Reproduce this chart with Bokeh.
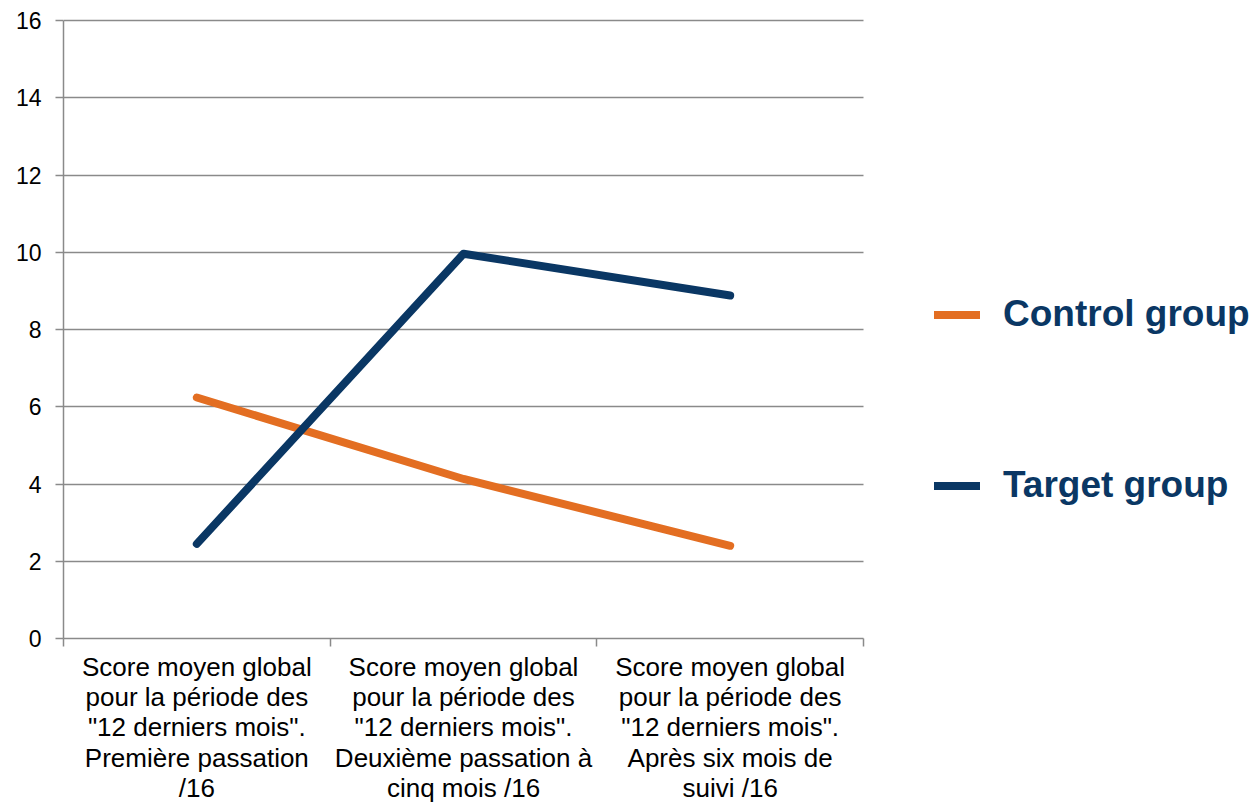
from bokeh.plotting import figure
from bokeh.models import Range1d, FixedTicker, LinearAxis, Legend, LegendItem
from bokeh.embed import file_html
from bokeh.resources import INLINE

# Three measurement points (category centres at 0.5, 1.5, 2.5 on a 0..3 axis)
categories = [
    "Score moyen global\npour la période des\n\"12 derniers mois\".\nPremière passation\n/16",
    "Score moyen global\npour la période des\n\"12 derniers mois\".\nDeuxième passation à\ncinq mois /16",
    "Score moyen global\npour la période des\n\"12 derniers mois\".\nAprès six mois de\nsuivi /16",
]
control_group = [6.24, 4.13, 2.40]
target_group = [2.45, 9.96, 8.88]
y_ticks = [0, 2, 4, 6, 8, 10, 12, 14, 16]
boundaries = [0, 1, 2, 3]

ORANGE = "#E36E22"
NAVY = "#0A3764"
GRID = "#8A8A8A"
FONT = "Liberation Sans"

FRAME_W_DATA = 800   # pixels spanned by the three categories
FRAME_W = 1255 - 63  # frame runs to the right edge so the legend sits inside it
x_end = 3 * FRAME_W / FRAME_W_DATA
# a little headroom above 16 so the top gridline is not clipped
y_top = 16 * 620 / 618

p = figure(width=1255, height=806, output_backend="svg", toolbar_location=None,
           x_range=Range1d(0, x_end), y_range=Range1d(0, y_top),
           min_border_left=63, min_border_right=0,
           min_border_top=18, min_border_bottom=168)
p.outline_line_color = None
p.background_fill_color = "white"
p.border_fill_color = "white"

# grid, limited to the category span
p.xgrid.grid_line_color = None
p.ygrid.ticker = FixedTicker(ticks=y_ticks)
p.ygrid.grid_line_color = GRID
p.ygrid.grid_line_width = 1.5
p.ygrid.cross_bounds = (0, 3)

# y axis
p.yaxis.ticker = FixedTicker(ticks=y_ticks)
p.yaxis.bounds = (0, 16)
p.yaxis.axis_line_color = GRID
p.yaxis.axis_line_width = 1.5
p.yaxis.major_tick_line_color = GRID
p.yaxis.major_tick_line_width = 1.5
p.yaxis.major_tick_out = 8
p.yaxis.major_tick_in = 0
p.yaxis.minor_tick_line_color = None
p.yaxis.major_label_text_font = FONT
p.yaxis.major_label_text_font_size = "23px"
p.yaxis.major_label_text_color = "black"
p.yaxis.major_label_standoff = 14

# x axis: tick marks on the category boundaries
p.xaxis.ticker = FixedTicker(ticks=boundaries)
p.xaxis.bounds = (0, 3)
p.xaxis.axis_line_color = GRID
p.xaxis.axis_line_width = 1.5
p.xaxis.major_tick_line_color = GRID
p.xaxis.major_tick_line_width = 1.5
p.xaxis.major_tick_out = 8
p.xaxis.major_tick_in = 0
p.xaxis.minor_tick_line_color = None
p.xaxis.major_label_overrides = {b: "" for b in boundaries}
p.xaxis.major_label_standoff = 0

xs = [i + 0.5 for i in range(len(categories))]

# second axis carrying the category names at the category centres
cat_axis = LinearAxis(ticker=FixedTicker(ticks=xs),
                      major_label_overrides={x: c for x, c in zip(xs, categories)},
                      axis_line_color=None, major_tick_line_color=None,
                      minor_tick_line_color=None,
                      major_tick_out=0, major_tick_in=0,
                      major_label_standoff=5,
                      major_label_text_font=FONT,
                      major_label_text_font_size="26px",
                      major_label_text_line_height=1.015,
                      major_label_text_color="black",
                      major_label_text_align="center")
p.add_layout(cat_axis, "below")

r_control = p.line(xs, control_group, line_color=ORANGE, line_width=8,
                   line_cap="round", line_join="round")
r_target = p.line(xs, target_group, line_color=NAVY, line_width=8,
                  line_cap="round", line_join="round")

legend = Legend(items=[LegendItem(label="Control group", renderers=[r_control]),
                       LegendItem(label="Target group", renderers=[r_target])],
                location=(871, 129), orientation="vertical",
                padding=0, margin=0, spacing=123,
                glyph_width=46, glyph_height=33, label_height=48,
                label_standoff=23,
                label_text_font=FONT, label_text_font_size="37px",
                label_text_font_style="bold", label_text_color=NAVY,
                border_line_alpha=0, background_fill_alpha=0)
p.add_layout(legend, "center")

open("out.html", "w").write(file_html(p, INLINE))
